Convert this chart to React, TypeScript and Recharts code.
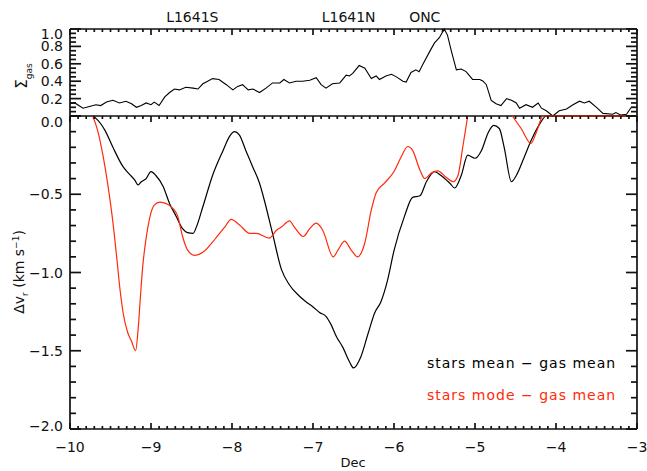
import React from "react";
import { LineChart, Line, XAxis, YAxis } from "recharts";

// ---- data ----
const sigmaDec = [
  -10.0, -9.94, -9.84, -9.76, -9.68, -9.62, -9.55, -9.47, -9.39, -9.31, -9.24, -9.18, -9.12, -9.06, -9.0,
  -8.96, -8.9, -8.83, -8.77, -8.71, -8.65, -8.57, -8.48, -8.42, -8.36, -8.3, -8.24, -8.16, -8.07, -7.99,
  -7.93, -7.87, -7.8, -7.74, -7.66, -7.58, -7.5, -7.41, -7.36, -7.29, -7.21, -7.13, -7.04, -6.96, -6.9,
  -6.84, -6.76, -6.67, -6.59, -6.55, -6.51, -6.43, -6.36, -6.28, -6.22, -6.18, -6.1, -6.03, -5.97, -5.89,
  -5.85, -5.79, -5.73, -5.69, -5.64, -5.56, -5.5, -5.44, -5.38, -5.34, -5.29, -5.23, -5.17, -5.11, -5.03,
  -4.94, -4.9, -4.86, -4.8, -4.74, -4.68, -4.61, -4.55, -4.49, -4.45, -4.37, -4.29, -4.22, -4.18, -4.12,
  -4.04, -3.96, -3.87, -3.79, -3.71, -3.65, -3.59, -3.5, -3.42, -3.3, -3.26, -3.2, -3.13, -3.07, -3.03,
];
const sigmaVal = [
  0.14, 0.15, 0.09, 0.11, 0.13, 0.12, 0.16, 0.18, 0.15, 0.17, 0.14, 0.1, 0.12, 0.15, 0.13,
  0.16, 0.12, 0.22, 0.27, 0.31, 0.3, 0.33, 0.32, 0.31, 0.37, 0.4, 0.43, 0.42, 0.36, 0.3,
  0.34, 0.36, 0.3, 0.31, 0.27, 0.32, 0.38, 0.38, 0.42, 0.38, 0.4, 0.4, 0.41, 0.44, 0.36,
  0.32, 0.37, 0.38, 0.47, 0.46, 0.49, 0.58, 0.55, 0.43, 0.46, 0.42, 0.46, 0.48, 0.45, 0.4,
  0.39, 0.5, 0.53, 0.51, 0.6, 0.74, 0.84, 0.9, 1.0, 0.93, 0.74, 0.53, 0.54, 0.51, 0.42,
  0.42, 0.4, 0.36, 0.18, 0.14, 0.12, 0.2, 0.18, 0.15, 0.09, 0.13, 0.1, 0.15, 0.09, 0.06,
  0.0, 0.06, 0.08, 0.13, 0.17, 0.15, 0.17, 0.1, 0.03, 0.02, 0.04, 0.01, 0.02, 0.1, 0.1,
];

const meanDec = [
  -9.72, -9.68, -9.57, -9.47, -9.35, -9.27, -9.2, -9.16, -9.12, -9.06, -9.0, -8.94, -8.85, -8.77, -8.69,
  -8.61, -8.55, -8.48, -8.44, -8.36, -8.24, -8.11, -8.03, -7.97, -7.91, -7.83, -7.74, -7.66, -7.6, -7.5,
  -7.39, -7.29, -7.17, -7.08, -7.0, -6.92, -6.84, -6.78, -6.71, -6.63, -6.55, -6.5, -6.41, -6.32, -6.24,
  -6.16, -6.08, -6.0, -5.87, -5.77, -5.68, -5.6, -5.5, -5.42, -5.31, -5.25, -5.17, -5.09, -5.0, -4.92,
  -4.84, -4.77, -4.7, -4.64, -4.55, -4.49, -4.39, -4.31, -4.2, -4.12, -3.0,
];
const meanVal = [
  0.0, -0.015, -0.09, -0.2, -0.32, -0.37, -0.41, -0.44, -0.42, -0.4, -0.355, -0.38, -0.45, -0.56, -0.64,
  -0.72, -0.745, -0.75, -0.71, -0.58, -0.38, -0.22, -0.13, -0.1, -0.12, -0.22, -0.33, -0.43, -0.54, -0.75,
  -0.98, -1.08, -1.15, -1.19, -1.22, -1.255, -1.28, -1.33, -1.41, -1.48, -1.57, -1.61, -1.54, -1.39, -1.26,
  -1.185, -1.05, -0.86, -0.64, -0.52, -0.51, -0.42, -0.355, -0.38, -0.43, -0.46, -0.38, -0.25, -0.27, -0.22,
  -0.11, -0.06, -0.08, -0.2, -0.42, -0.38, -0.26, -0.16, -0.05, 0.0, 0.0,
];

const modeDec = [
  -9.72, -9.66, -9.59, -9.53, -9.47, -9.42, -9.38, -9.34, -9.29, -9.24, -9.19, -9.16, -9.13, -9.1, -9.06,
  -9.02, -8.96, -8.89, -8.81, -8.73, -8.67, -8.61, -8.55, -8.46, -8.36, -8.2, -8.09, -8.01, -7.91, -7.78,
  -7.7, -7.54, -7.45, -7.39, -7.29, -7.23, -7.12, -7.04, -6.96, -6.88, -6.75, -6.69, -6.61, -6.53, -6.45,
  -6.36, -6.28, -6.22, -6.12, -6.0, -5.91, -5.83, -5.77, -5.68, -5.62, -5.54, -5.46, -5.36, -5.27, -5.21,
  -5.15, -5.09, -4.8, -4.54, -4.43, -4.31, -4.24, -4.16, -3.0,
];
const modeVal: (number | null)[] = [
  0.0, -0.09, -0.26, -0.45, -0.68, -0.92, -1.12, -1.27, -1.38, -1.44, -1.5, -1.37, -1.15, -0.95, -0.78,
  -0.66, -0.57, -0.55, -0.56, -0.59, -0.64, -0.77, -0.855, -0.89, -0.87, -0.78, -0.71, -0.66, -0.695, -0.75,
  -0.75, -0.78, -0.73, -0.71, -0.67, -0.71, -0.77, -0.72, -0.685, -0.73, -0.9, -0.855, -0.8, -0.855, -0.9,
  -0.81, -0.6, -0.49, -0.43, -0.355, -0.26, -0.195, -0.22, -0.345, -0.4, -0.365, -0.35, -0.39, -0.42, -0.38,
  -0.195, 0.0, null, 0.0, -0.08, -0.175, -0.1, 0.0, 0.0,
];

const xMajorTicks = [-10, -9, -8, -7, -6, -5, -4, -3];
const xTickLabels = ["\u221210", "\u22129", "\u22128", "\u22127", "\u22126", "\u22125", "\u22124", "\u22123"];
const dvMajorTicks = [-2, -1.5, -1, -0.5, 0];
const dvTickLabels = ["\u22122.0", "\u22121.5", "\u22121.0", "\u22120.5", "0.0"];
const sigmaMajorTicks = [0, 0.2, 0.4, 0.6, 0.8, 1.0];
const sigmaTickLabels = ["", "0.2", "0.4", "0.6", "0.8", "1.0"];
const regionDec = [-8.49, -6.56, -5.62];
const regionNames = ["L1641S", "L1641N", "ONC"];
const seriesNames = ["stars mean \u2212 gas mean", "stars mode \u2212 gas mean"];
const seriesColors = ["#000000", "#ff2a0a"];

// ---- helpers ----
const steps = (a: number, b: number, s: number) => {
  const out: number[] = [];
  const n = Math.round((b - a) / s);
  for (let i = 0; i <= n; i++) out.push(Math.round((a + i * s) * 1000) / 1000);
  return out;
};
const xMinorTicks = steps(-10, -3, 0.1);
const topTicks = [...xMinorTicks, ...regionDec].sort((a, b) => a - b);
const dvMinorTicks = steps(-2, 0, 0.1);
const sigmaMinorTicks = steps(0, 1, 0.05);

const toPts = (xs: number[], ys: (number | null)[]) => xs.map((x, i) => ({ x, y: ys[i] }));
const sigmaData = toPts(sigmaDec, sigmaVal);
const meanData = toPts(meanDec, meanVal);
const modeData = toPts(modeDec, modeVal);

const findIdx = (v: number, arr: number[]) => arr.findIndex((m) => Math.abs(m - v) < 1e-6);

const FONT = "DejaVu Sans";
const INK = "#111";
const TICK = "#111";
const TW = 1.7;
const axisStyle = { stroke: "#111", strokeWidth: 1.7 };

const makeLeftTick = (majors: number[], labels: string[], fontSize: number, dy: (v: number) => number) =>
  (p: any) => {
    const v = p.payload.value;
    const x = Number(p.x);
    const y = Number(p.y);
    const i = findIdx(v, majors);
    const len = i >= 0 ? 11 : 6;
    return (
      <g>
        <line x1={x} y1={y} x2={x + len} y2={y} stroke={TICK} strokeWidth={TW} />
        {i >= 0 && labels[i] !== "" && (
          <text x={x - 7} y={y + dy(v)} textAnchor="end" fontFamily={FONT} fontSize={fontSize} fill={INK}>
            {labels[i]}
          </text>
        )}
      </g>
    );
  };

const makeRightTick = (majors: number[]) => (p: any) => {
  const v = p.payload.value;
  const x = Number(p.x);
  const y = Number(p.y);
  const len = findIdx(v, majors) >= 0 ? 11 : 6;
  return <line x1={x} y1={y} x2={x - len} y2={y} stroke={TICK} strokeWidth={TW} />;
};

const TopTick = (p: any) => {
  const v = p.payload.value;
  const x = Number(p.x);
  const y = Number(p.y);
  const ri = findIdx(v, regionDec);
  if (ri >= 0) {
    return (
      <text x={x} y={y - 7} textAnchor="middle" fontFamily={FONT} fontSize={14} fill={INK}>
        {regionNames[ri]}
      </text>
    );
  }
  const len = findIdx(v, xMajorTicks) >= 0 ? 6 : 3;
  return <line x1={x} y1={y} x2={x} y2={y + len} stroke={TICK} strokeWidth={TW} />;
};

const BottomTick = (p: any) => {
  const v = p.payload.value;
  const x = Number(p.x);
  const y = Number(p.y);
  const i = findIdx(v, xMajorTicks);
  return (
    <g>
      <line x1={x} y1={y} x2={x} y2={y - (i >= 0 ? 6 : 3)} stroke={TICK} strokeWidth={TW} />
      {i >= 0 && (
        <text x={x} y={y + 23} textAnchor="middle" fontFamily={FONT} fontSize={14} fill={INK}>
          {xTickLabels[i]}
        </text>
      )}
    </g>
  );
};

const sigmaLeftTick = makeLeftTick(sigmaMajorTicks, sigmaTickLabels, 14, (v) => (v > 0.99 ? 10 : 5));
const dvLeftTick = makeLeftTick(dvMajorTicks, dvTickLabels, 14, (v) => (v > -0.01 ? 11 : v < -1.99 ? 2 : 5));
const sigmaRightTick = makeRightTick(sigmaMajorTicks);
const dvRightTick = makeRightTick(dvMajorTicks);

export default function App() {
  return (
    <div style={{ position: "absolute", left: 0, top: 0, width: 647, height: 471, background: "#fff" }}>
      <div style={{ position: "absolute", left: 0, top: 0 }}>
        <LineChart width={647} height={117} margin={{ top: 28, right: 9, bottom: 0, left: 0 }}>
          <XAxis xAxisId="b" type="number" dataKey="x" domain={[-10, -3]} ticks={xMajorTicks}
            height={1} tick={false} tickLine={false} axisLine={axisStyle} />
          <XAxis xAxisId="t" type="number" dataKey="x" domain={[-10, -3]} allowDataOverflow ticks={topTicks} interval={0}
            orientation="top" height={1} tickSize={0} tickMargin={0} tickLine={false} axisLine={axisStyle} tick={TopTick} />
          <YAxis yAxisId="l" type="number" domain={[0, 1]} ticks={sigmaMinorTicks} interval={0} width={70}
            tickSize={0} tickMargin={0} tickLine={false} axisLine={axisStyle} tick={sigmaLeftTick} />
          <YAxis yAxisId="r" type="number" orientation="right" domain={[0, 1]} allowDataOverflow ticks={sigmaMinorTicks} interval={0} width={1}
            tickSize={0} tickMargin={0} tickLine={false} axisLine={axisStyle} tick={sigmaRightTick} />
          <Line xAxisId="b" yAxisId="l" data={sigmaData} dataKey="y" type="linear" stroke="#000"
            strokeWidth={1.1} dot={false} activeDot={false} isAnimationActive={false} />
        </LineChart>
      </div>
      <div style={{ position: "absolute", left: 0, top: 0 }}>
        <LineChart width={647} height={471} margin={{ top: 115, right: 9, bottom: 0, left: 0 }}>
          <XAxis xAxisId="b" type="number" dataKey="x" domain={[-10, -3]} ticks={xMinorTicks} interval={0}
            height={42} tickSize={0} tickMargin={0} tickLine={false} axisLine={axisStyle} tick={BottomTick} />
          <XAxis xAxisId="t" type="number" dataKey="x" domain={[-10, -3]} allowDataOverflow ticks={xMinorTicks} interval={0}
            orientation="top" height={1} tickSize={0} tickMargin={0} tickLine={false} axisLine={false} tick={TopTick} />
          <YAxis yAxisId="l" type="number" domain={[-2, 0]} ticks={dvMinorTicks} interval={0} width={70}
            tickSize={0} tickMargin={0} tickLine={false} axisLine={axisStyle} tick={dvLeftTick} />
          <YAxis yAxisId="r" type="number" orientation="right" domain={[-2, 0]} allowDataOverflow ticks={dvMinorTicks} interval={0} width={1}
            tickSize={0} tickMargin={0} tickLine={false} axisLine={axisStyle} tick={dvRightTick} />
          <Line xAxisId="b" yAxisId="l" data={meanData} dataKey="y" type="monotone" stroke={seriesColors[0]}
            strokeWidth={1.2} dot={false} activeDot={false} isAnimationActive={false} />
          <Line xAxisId="b" yAxisId="l" data={modeData} dataKey="y" type="monotone" stroke={seriesColors[1]}
            strokeWidth={1.2} dot={false} activeDot={false} isAnimationActive={false} />
        </LineChart>
      </div>
      <svg width={647} height={471} style={{ position: "absolute", left: 0, top: 0, pointerEvents: "none" }}>
        <text transform="translate(27,76) rotate(-90)" textAnchor="middle" fontFamily={FONT} fontSize={15} fill={INK}>
          {"\u03a3"}
          <tspan dy={5} fontSize={9}>gas</tspan>
        </text>
        <text transform="translate(24,272) rotate(-90)" textAnchor="middle" fontFamily={FONT} fontSize={14} fill={INK}>
          {"\u0394v"}
          <tspan dy={4} fontSize={9}>r</tspan>
          <tspan dy={-4}>{"  (km s"}</tspan>
          <tspan dy={-5} fontSize={9}>{"\u22121"}</tspan>
          <tspan dy={5}>)</tspan>
        </text>
        <text x={353} y={467} textAnchor="middle" fontFamily={FONT} fontSize={13} fill={INK}>Dec</text>
        <text x={427} y={368} fontFamily={FONT} fontSize={14} fill={seriesColors[0]} letterSpacing={1}>{seriesNames[0]}</text>
        <text x={427} y={400} fontFamily={FONT} fontSize={14} fill={seriesColors[1]} letterSpacing={1}>{seriesNames[1]}</text>
      </svg>
    </div>
  );
}
